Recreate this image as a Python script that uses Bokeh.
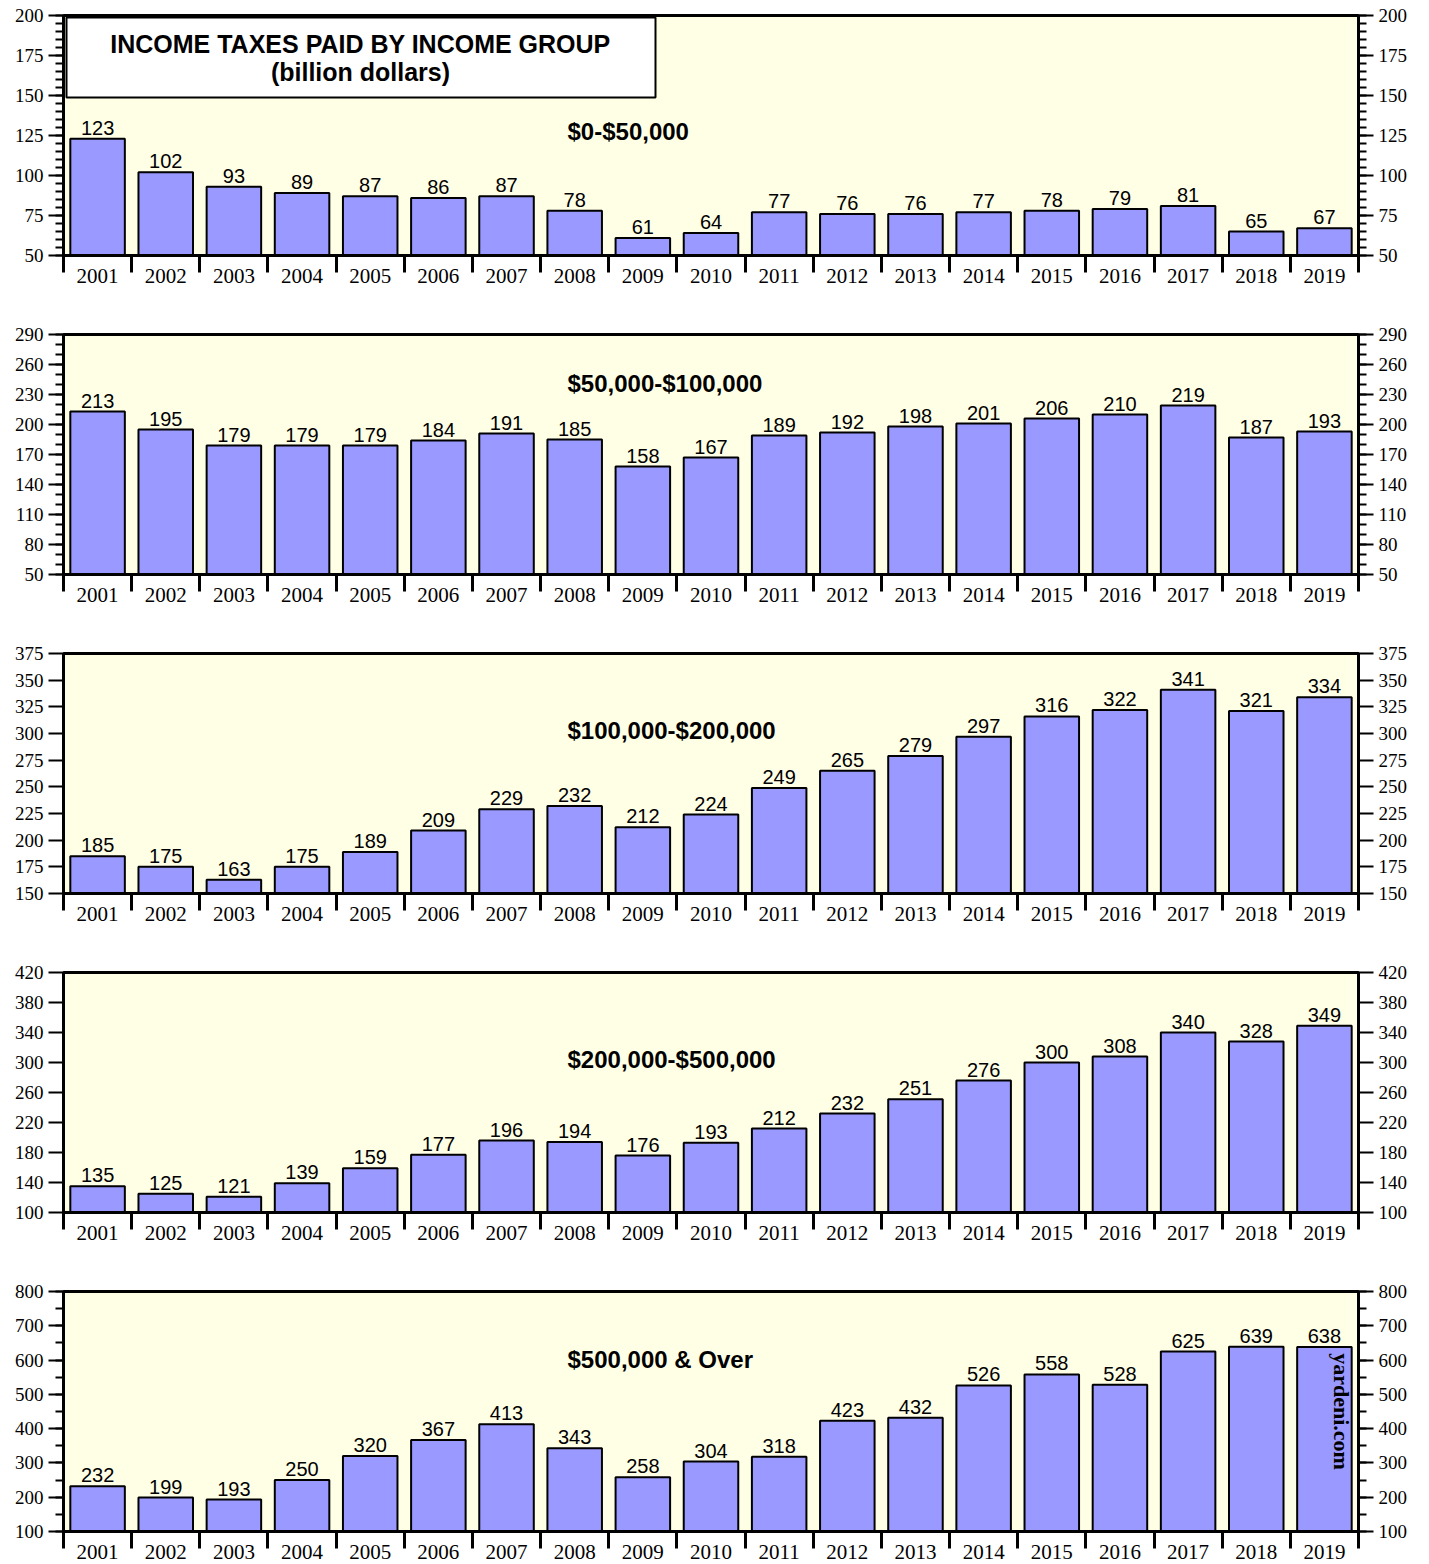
import math
from bokeh.plotting import figure
from bokeh.models import Range1d, LinearAxis, FixedTicker, Label, BoxAnnotation, ColumnDataSource
from bokeh.layouts import column
from bokeh.embed import file_html
from bokeh.resources import INLINE
from bokeh.core.properties import value

# ---------------- data ----------------
years = [2001, 2002, 2003, 2004, 2005, 2006, 2007, 2008, 2009, 2010,
         2011, 2012, 2013, 2014, 2015, 2016, 2017, 2018, 2019]

group_0_50k = [123, 102, 93, 89, 87, 86, 87, 78, 61, 64, 77, 76, 76, 77, 78, 79, 81, 65, 67]
group_50_100k = [213, 195, 179, 179, 179, 184, 191, 185, 158, 167, 189, 192, 198, 201, 206, 210, 219, 187, 193]
group_100_200k = [185, 175, 163, 175, 189, 209, 229, 232, 212, 224, 249, 265, 279, 297, 316, 322, 341, 321, 334]
group_200_500k = [135, 125, 121, 139, 159, 177, 196, 194, 176, 193, 212, 232, 251, 276, 300, 308, 340, 328, 349]
group_500k_over = [232, 199, 193, 250, 320, 367, 413, 343, 258, 304, 318, 423, 432, 526, 558, 528, 625, 639, 638]

titles = ["$0-$50,000", "$50,000-$100,000", "$100,000-$200,000", "$200,000-$500,000", "$500,000 & Over"]

ticks_1 = [50, 75, 100, 125, 150, 175, 200]
ticks_2 = [50, 80, 110, 140, 170, 200, 230, 260, 290]
ticks_3 = [150, 175, 200, 225, 250, 275, 300, 325, 350, 375]
ticks_4 = [100, 140, 180, 220, 260, 300, 340, 380, 420]
ticks_5 = [100, 200, 300, 400, 500, 600, 700, 800]

minor_1 = list(range(50, 201, 5))
minor_2 = list(range(50, 291, 10))
minor_3 = []
minor_4 = []
minor_5 = list(range(100, 801, 50))

series = [group_0_50k, group_50_100k, group_100_200k, group_200_500k, group_500k_over]
all_ticks = [ticks_1, ticks_2, ticks_3, ticks_4, ticks_5]
all_minor = [minor_1, minor_2, minor_3, minor_4, minor_5]

# ---------------- styling ----------------
FRAME_W = 1295
FRAME_H = 240
BL, BR, BT = 63, 57, 15
BAR_COLOR = "#9999FF"
BG = "#FFFFE6"
SANS = "Liberation Sans"
SERIF = "Liberation Serif"
title_offsets = [116, 49, 77, 87, 68]   # px below frame top


def style_y(ax, ticks, minors):
    ax.ticker = FixedTicker(ticks=ticks, minor_ticks=minors)
    ax.axis_line_color = "black"
    ax.axis_line_width = 3
    ax.major_tick_out = 15
    ax.major_tick_in = 0
    ax.major_tick_line_width = 2
    ax.major_tick_line_color = "black"
    ax.minor_tick_out = 8
    ax.minor_tick_in = 0
    ax.minor_tick_line_width = 2
    ax.minor_tick_line_color = "black"
    ax.major_label_standoff = 5
    ax.major_label_text_font = SERIF
    ax.major_label_text_font_size = "19px"
    ax.major_label_text_color = "black"


def make_panel(idx):
    vals = series[idx]
    ticks = all_ticks[idx]
    ymin, ymax = ticks[0], ticks[-1]
    last = idx == len(series) - 1
    bb = 33 if last else 64
    p = figure(width=BL + FRAME_W + BR, height=BT + FRAME_H + bb,
               x_range=Range1d(years[0] - 0.5, years[-1] + 0.5),
               y_range=Range1d(ymin, ymax),
               output_backend="svg", toolbar_location=None,
               min_border_left=BL, min_border_right=BR,
               min_border_top=BT, min_border_bottom=bb)
    p.background_fill_color = BG
    p.border_fill_color = "white"
    p.outline_line_color = "black"
    p.outline_line_width = 3
    p.xgrid.visible = False
    p.ygrid.visible = False

    src = ColumnDataSource(dict(x=years, top=vals, label=[str(v) for v in vals]))
    p.vbar(x="x", top="top", bottom=ymin, width=0.8, source=src,
           fill_color=BAR_COLOR, line_color="black", line_width=2)
    p.text(x="x", y="top", text="label", source=src, text_align="center",
           text_baseline="alphabetic", y_offset=-11, text_font=value(SANS),
           text_font_size="20px", text_color="black")

    # x axis: labels centred under bars, long ticks at bar-slot boundaries
    xa = p.xaxis[0]
    xa.ticker = FixedTicker(ticks=years, minor_ticks=[y - 0.5 for y in years] + [years[-1] + 0.5])
    xa.axis_line_color = "black"
    xa.axis_line_width = 3
    xa.major_tick_out = 0
    xa.major_tick_in = 0
    xa.minor_tick_out = 17
    xa.minor_tick_in = 0
    xa.minor_tick_line_width = 3
    xa.minor_tick_line_color = "black"
    xa.major_label_standoff = -4
    xa.major_label_text_font = SERIF
    xa.major_label_text_font_size = "21px"
    xa.major_label_text_color = "black"

    style_y(p.yaxis[0], ticks, all_minor[idx])
    right = LinearAxis()
    style_y(right, ticks, all_minor[idx])
    p.add_layout(right, "right")

    p.add_layout(Label(x=504, y=FRAME_H - title_offsets[idx], x_units="screen", y_units="screen",
                       text=titles[idx], text_font=SANS, text_font_style="bold",
                       text_font_size="24px", text_baseline="middle", text_align="left",
                       text_color="black"))

    if idx == 0:
        p.add_layout(BoxAnnotation(left=3, right=592, top=FRAME_H - 2, bottom=FRAME_H - 82,
                                   left_units="screen", right_units="screen",
                                   top_units="screen", bottom_units="screen",
                                   fill_color="white", fill_alpha=1.0,
                                   line_color="black", line_width=2, line_alpha=1.0))
        p.add_layout(Label(x=297, y=FRAME_H - 28, x_units="screen", y_units="screen",
                           text="INCOME TAXES PAID BY INCOME GROUP", text_font=SANS,
                           text_font_style="bold", text_font_size="25px",
                           text_align="center", text_baseline="middle", text_color="black"))
        p.add_layout(Label(x=297, y=FRAME_H - 56, x_units="screen", y_units="screen",
                           text="(billion dollars)", text_font=SANS,
                           text_font_style="bold", text_font_size="25px",
                           text_align="center", text_baseline="middle", text_color="black"))
    if last:
        p.add_layout(Label(x=1278, y=FRAME_H - 120, x_units="screen", y_units="screen",
                           text="yardeni.com", text_font=SERIF, text_font_style="bold",
                           text_font_size="22px", text_align="center", text_baseline="middle",
                           angle=-math.pi / 2, text_color="black"))
    return p


panels = [make_panel(i) for i in range(len(series))]
layout = column(*panels, spacing=0)

open("out.html", "w").write(file_html(layout, INLINE))
